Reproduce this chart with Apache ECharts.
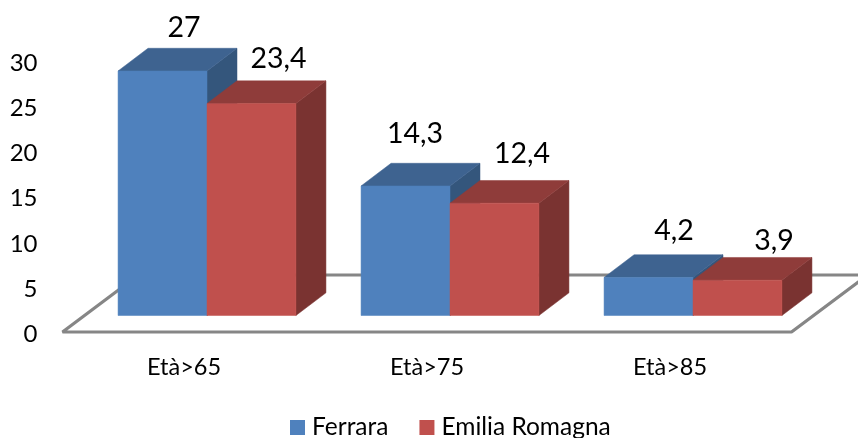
<!DOCTYPE html>
<html>
<head>
<meta charset="utf-8">
<style>html,body{margin:0;padding:0;background:#fff}#chart{width:858px;height:438px}</style>
<script src="https://cdn.jsdelivr.net/npm/echarts@6/dist/echarts.min.js"></script>
</head>
<body>
<div id="chart"></div>
<script>
// Share of population by age band, two areas
const categories = ['Età>65', 'Età>75', 'Età>85'];
const ferrara = [27, 14.3, 4.2];
const emiliaRomagna = [23.4, 12.4, 3.9];
const yTicks = { min: 0, max: 30, interval: 5 };

// Pseudo-3D look of the columns
const DEPTH_X = 30, DEPTH_Y = -22.7, LIFT = -16.5, SHIFT_X = 23, BAR_RATIO = 0.366;
const FONT = 'Lato, Carlito, "Open Sans", sans-serif';
const palettes = [
  { front: '#4F81BD', top: '#3E6390', side: '#34567C' },
  { front: '#C0504D', top: '#8F3C3A', side: '#7A3331' }
];
// Hand-placed value labels: offset from the column's top-left front corner
const labelOffsets = [
  [[66, -43], [54, -52], [70, -47]],
  [[71.5, -45], [72, -49], [81, -39]]
];

const fmt = v => String(v).replace('.', ',');

function columnItem(seriesIndex) {
  return function (params, api) {
    const i = api.value(0), v = api.value(1);
    const pal = palettes[seriesIndex];
    const w = api.size([1, 0])[0] * BAR_RATIO;
    const c = api.coord([i, v]);
    const x0 = c[0] + SHIFT_X + (seriesIndex - 1) * w, x1 = x0 + w;
    const yT = c[1] + LIFT, yB = api.coord([i, 0])[1] + LIFT;
    const poly = (pts, fill) => ({
      type: 'polygon', shape: { points: pts },
      style: { fill: fill, stroke: fill, lineWidth: 0.5 }
    });
    const off = labelOffsets[seriesIndex][i];
    return {
      type: 'group',
      children: [
        poly([[x1, yT], [x1 + DEPTH_X, yT + DEPTH_Y], [x1 + DEPTH_X, yB + DEPTH_Y], [x1, yB]], pal.side),
        poly([[x0, yT], [x0 + DEPTH_X, yT + DEPTH_Y], [x1 + DEPTH_X, yT + DEPTH_Y], [x1, yT]], pal.top),
        poly([[x0, yT], [x1, yT], [x1, yB], [x0, yB]], pal.front),
        {
          type: 'text', z2: 10,
          style: {
            text: fmt(v), x: x0 + off[0], y: yT + off[1],
            textAlign: 'center', textVerticalAlign: 'middle',
            fontFamily: FONT, fontSize: 28.5, fill: '#000'
          }
        }
      ]
    };
  };
}

// The sloped floor the columns stand on
function floorItem(params) {
  const g = params.coordSys;
  const run = 76, rise = 57;
  const yF = g.y + g.height, yK = yF - rise;
  const xL = g.x, xR = g.x + g.width;
  return {
    type: 'polygon',
    shape: { points: [[xL, yF], [xR, yF], [xR + run, yK], [xL + run, yK]] },
    style: { fill: '#fff', stroke: '#868686', lineWidth: 3.2, lineJoin: 'bevel' }
  };
}

const toPoints = arr => arr.map((v, i) => [i, v]);

const chart = echarts.init(document.getElementById('chart'), null, { renderer: 'canvas' });
chart.setOption({
  animation: false,
  backgroundColor: '#fff',
  grid: { left: 62.5, width: 729, top: 60.3, height: 271.7, containLabel: false },
  legend: {
    data: ['Ferrara', 'Emilia Romagna'],
    left: 290, top: 415, padding: 0,
    icon: 'rect', itemWidth: 15, itemHeight: 15, itemGap: 31,
    textStyle: { fontFamily: FONT, fontSize: 24.5, color: '#000', padding: [0, 0, 0, 2] }
  },
  xAxis: {
    type: 'category', data: categories,
    axisLine: { show: false }, axisTick: { show: false },
    axisLabel: { fontFamily: FONT, fontSize: 23.5, color: '#000', margin: 23 }
  },
  yAxis: {
    type: 'value', min: yTicks.min, max: yTicks.max, interval: yTicks.interval,
    axisLine: { show: false }, axisTick: { show: false }, splitLine: { show: false },
    axisLabel: {
      fontFamily: FONT, fontSize: 24, color: '#000', margin: 25,
      verticalAlign: 'top', lineHeight: 5
    }
  },
  series: [
    { type: 'custom', name: 'floor', renderItem: floorItem, data: [[0, 0]], silent: true },
    { type: 'custom', name: 'Ferrara', renderItem: columnItem(0), data: toPoints(ferrara),
      itemStyle: { color: palettes[0].front }, encode: { x: 0, y: 1 } },
    { type: 'custom', name: 'Emilia Romagna', renderItem: columnItem(1), data: toPoints(emiliaRomagna),
      itemStyle: { color: palettes[1].front }, encode: { x: 0, y: 1 } }
  ]
});
</script>
</body>
</html>
